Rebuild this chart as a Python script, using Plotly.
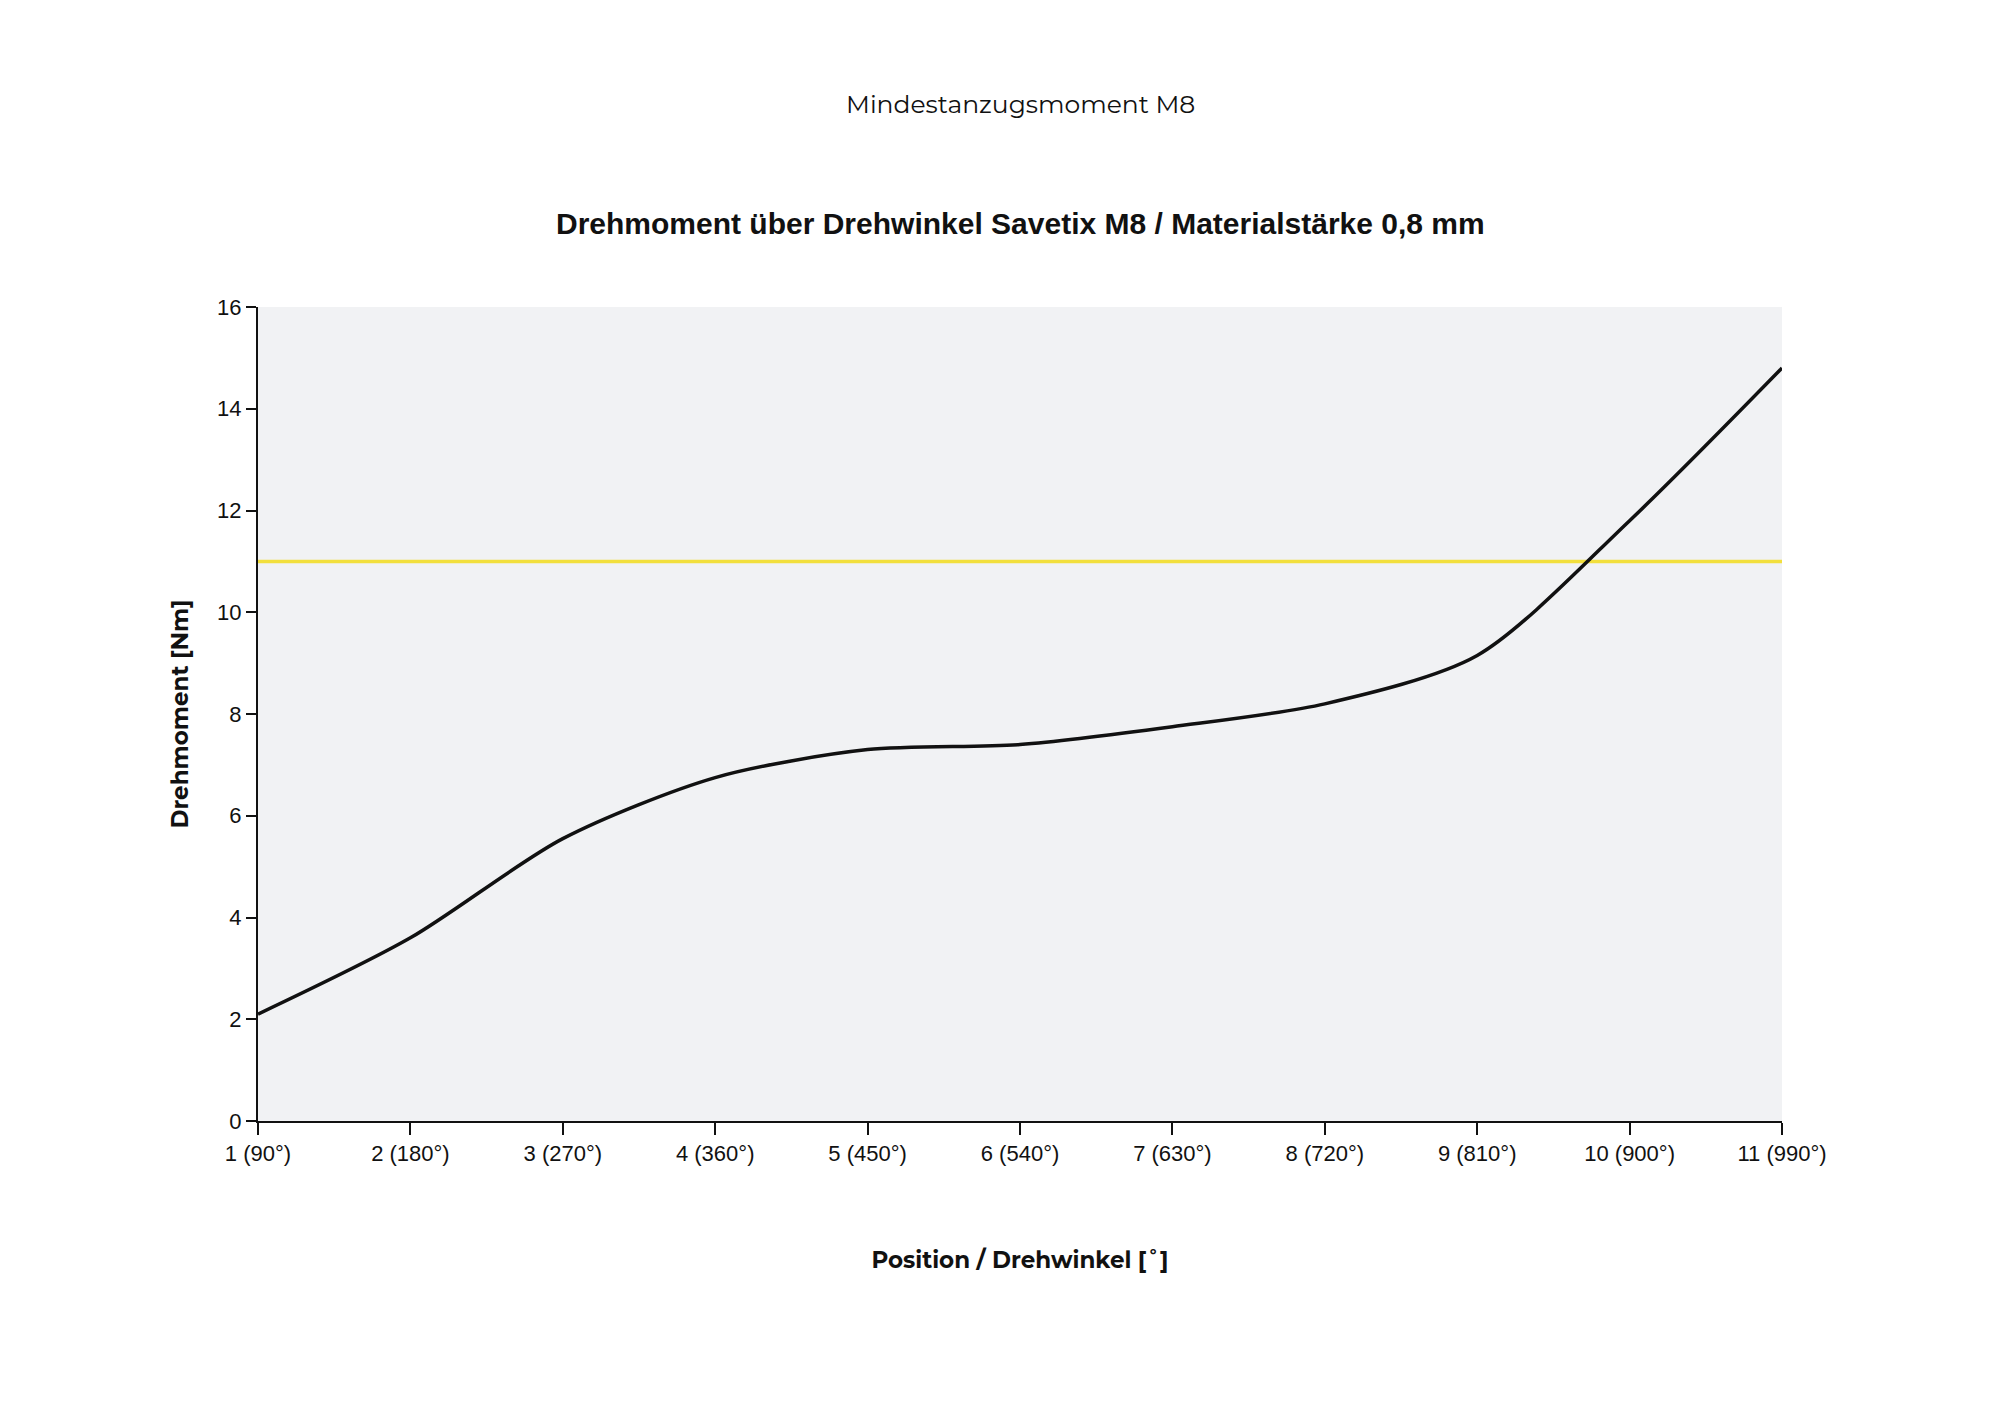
import plotly.graph_objects as go

positions = [1, 2, 3, 4, 5, 6, 7, 8, 9, 10, 11]
tick_labels = ["1 (90°)", "2 (180°)", "3 (270°)", "4 (360°)", "5 (450°)", "6 (540°)",
               "7 (630°)", "8 (720°)", "9 (810°)", "10 (900°)", "11 (990°)"]
torque = [2.1, 3.6, 5.55, 6.75, 7.3, 7.4, 7.75, 8.2, 9.15, 11.8, 14.8]
min_torque = 11

fig = go.Figure()
fig.add_trace(go.Scatter(x=[positions[0], positions[-1]], y=[min_torque, min_torque],
                         mode="lines", line=dict(color="#f2df3c", width=3.5), showlegend=False))
fig.add_trace(go.Scatter(x=positions, y=torque, mode="lines",
                         line=dict(color="#111111", width=3.5, shape="spline", smoothing=0.8),
                         showlegend=False))

fig.update_layout(
    width=2000, height=1414,
    margin=dict(l=250, r=226, t=299, b=301),
    paper_bgcolor="white", plot_bgcolor="#f1f2f4",
    font=dict(family="Liberation Sans, Arial", color="#111", size=22),
    xaxis=dict(range=[1, 11], tickvals=positions, ticktext=tick_labels, showgrid=False,
               zeroline=False, showline=True, linecolor="#111", linewidth=2,
               ticks="outside", ticklen=12, tickwidth=2, tickcolor="#111",
               title=dict(text="<b>Position / Drehwinkel [˚]</b>",
                          font=dict(family="Montserrat, Lato, sans-serif", size=23), standoff=86)),
    yaxis=dict(range=[0, 16], dtick=2, showgrid=False, zeroline=False, showline=True,
               linecolor="#111", linewidth=2, ticks="outside", ticklen=10, tickwidth=2,
               tickcolor="#111",
               title=dict(text="<b>Drehmoment [Nm]</b>",
                          font=dict(family="Montserrat, Lato, sans-serif", size=23), standoff=22)),
    annotations=[
        dict(text="Mindestanzugsmoment M8", xref="paper", yref="paper", x=0.5, y=1,
             xanchor="center", yanchor="middle", yshift=203, showarrow=False,
             font=dict(family="Montserrat, Lato, sans-serif", size=25, color="#111")),
        dict(text="<b>Drehmoment über Drehwinkel Savetix M8 / Materialstärke 0,8 mm</b>",
             xref="paper", yref="paper", x=0.5, y=1, xanchor="center", yanchor="middle",
             yshift=84, showarrow=False,
             font=dict(family="Liberation Sans, Arial", size=30, color="#111")),
    ],
)
fig.write_html("out.html")
